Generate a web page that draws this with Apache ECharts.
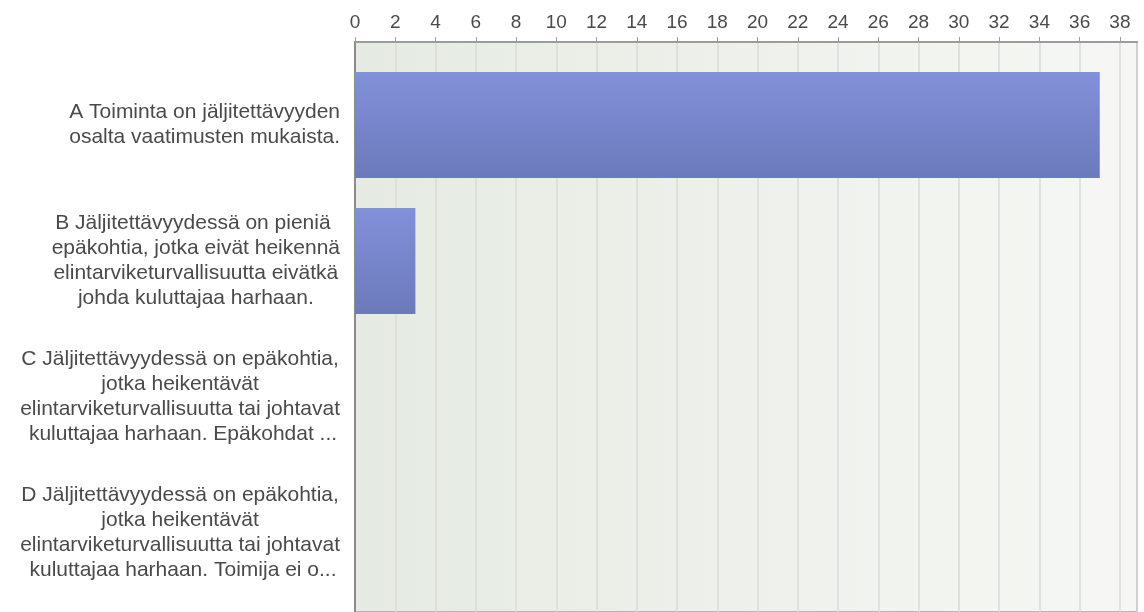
<!DOCTYPE html>
<html>
<head>
<meta charset="utf-8">
<script src="https://cdn.jsdelivr.net/npm/echarts@6/dist/echarts.min.js"></script>
<style>
  html, body { margin: 0; padding: 0; background: #ffffff; }
  #chart { width: 1144px; height: 612px; }
</style>
</head>
<body>
<div id="chart"></div>
<script>
// Answer options (line breaks as shown on the axis)
const categories = [
  'A Toiminta on jäljitettävyyden\nosalta vaatimusten mukaista.',
  'B Jäljitettävyydessä on pieniä \nepäkohtia, jotka eivät heikennä\nelintarviketurvallisuutta eivätkä\njohda kuluttajaa harhaan.',
  'C Jäljitettävyydessä on epäkohtia,\njotka heikentävät\nelintarviketurvallisuutta tai johtavat\n kuluttajaa harhaan. Epäkohdat ...',
  'D Jäljitettävyydessä on epäkohtia,\njotka heikentävät\nelintarviketurvallisuutta tai johtavat\n kuluttajaa harhaan. Toimija ei o...'
];
// Number of responses per option
const responses = [37, 3, 0, 0];
// Value axis settings
const axisMin = 0;
const axisMax = 38.85;
const axisStep = 2;

const FONT = '"Liberation Sans", Arial, sans-serif';
const chart = echarts.init(document.getElementById('chart'), null, { renderer: 'canvas' });

const plotBackground = new echarts.graphic.LinearGradient(0, 0, 1, 0, [
  { offset: 0, color: '#e5ebe2' },
  { offset: 1, color: '#f6f7f4' }
]);
const barFill = new echarts.graphic.LinearGradient(0, 0, 0, 1, [
  { offset: 0, color: '#8191da' },
  { offset: 1, color: '#6b7abb' }
]);

chart.setOption({
  animation: false,
  backgroundColor: '#ffffff',
  grid: [
    // frame, background and top scale
    { left: 355, right: 7, top: 42, bottom: -20, show: true,
      backgroundColor: plotBackground, borderColor: '#b4b4b4', borderWidth: 2 },
    // bars and category labels
    { left: 355, right: 7, top: 57, bottom: 11 }
  ],
  xAxis: [
    {
      gridIndex: 0, type: 'value', position: 'top',
      min: axisMin, max: axisMax, interval: axisStep,
      axisLine: { show: true, lineStyle: { color: '#9c9c9c', width: 2 } },
      axisTick: { show: true, length: 5, lineStyle: { color: '#9c9c9c', width: 1 } },
      splitLine: { show: true, lineStyle: { color: '#d9dbd7', width: 1.5 } },
      axisLabel: { show: true, margin: 10, color: '#4a4a4a', fontSize: 19, fontFamily: FONT,
        showMaxLabel: false,
        formatter: v => (v % axisStep === 0 ? String(v) : '') }
    },
    {
      gridIndex: 1, type: 'value', min: axisMin, max: axisMax, show: false
    }
  ],
  yAxis: [
    {
      gridIndex: 0, type: 'category', data: [''],
      axisLine: { show: true, lineStyle: { color: '#8c8c8c', width: 2 } },
      axisTick: { show: false }, axisLabel: { show: false }, splitLine: { show: false }
    },
    {
      gridIndex: 1, type: 'category', inverse: true, data: categories,
      axisLine: { show: false }, axisTick: { show: false },
      axisLabel: {
        margin: 15, color: '#4a4a4a', fontSize: 21, fontFamily: FONT, lineHeight: 25,
        align: 'right',
        formatter: v => v.split('\n').map(l => '{c|' + l + '}').join('\n'),
        rich: { c: { align: 'center', fontSize: 21, lineHeight: 25, fontFamily: FONT, color: '#4a4a4a' } }
      }
    }
  ],
  series: [{
    type: 'bar',
    xAxisIndex: 1, yAxisIndex: 1,
    data: responses,
    barWidth: 106,
    itemStyle: { color: barFill },
    silent: true
  }]
});
</script>
</body>
</html>
